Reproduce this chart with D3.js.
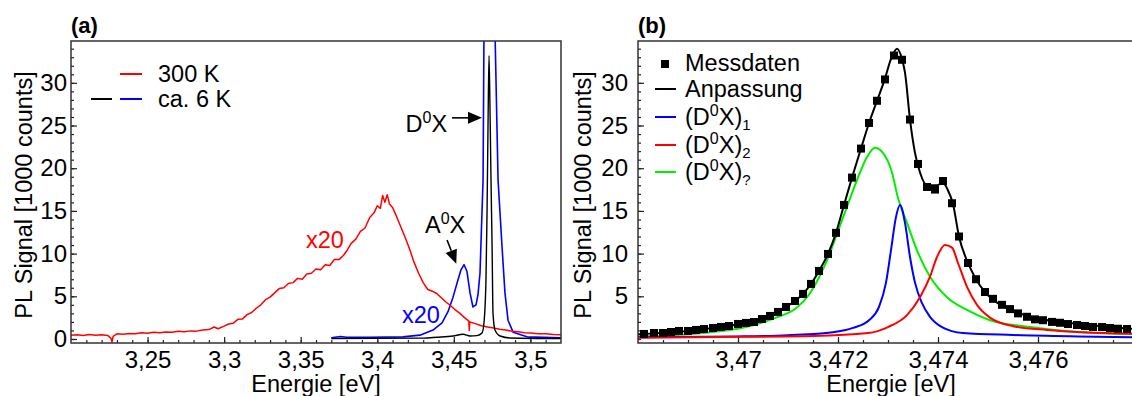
<!DOCTYPE html>
<html>
<head>
<meta charset="utf-8">
<script src="https://cdn.jsdelivr.net/npm/d3@7"></script>
<style>
  body { margin: 0; background: #fff; }
  svg { display: block; font-family: "Liberation Sans", Arial, sans-serif; }
</style>
</head>
<body>
<svg id="chart" width="1132" height="396"></svg>
<script>
// ---- panel (a): PL spectra [energy eV, 1000 counts] ----
const red300K = [
  [3.200, 0.45], [3.204, 0.5], [3.208, 0.42], [3.212, 0.52], [3.216, 0.45], [3.220, 0.5],
  [3.224, 0.42], [3.2262, 0.05], [3.2268, -0.35], [3.2275, 0.3], [3.230, 0.6], [3.234, 0.55],
  [3.238, 0.65], [3.242, 0.6], [3.246, 0.72], [3.250, 0.68], [3.254, 0.78], [3.258, 0.72],
  [3.262, 0.82], [3.266, 0.78], [3.270, 0.9], [3.274, 0.85], [3.278, 0.95], [3.282, 0.92],
  [3.286, 1.05], [3.290, 1.1], [3.2935, 1.4], [3.296, 1.2], [3.300, 1.5], [3.303, 1.75],
  [3.306, 1.85], [3.309, 2.3], [3.312, 2.35], [3.315, 2.85], [3.318, 3.1], [3.321, 3.6],
  [3.324, 4.0], [3.327, 4.6], [3.330, 4.9], [3.333, 5.4], [3.336, 5.9], [3.339, 6.0],
  [3.342, 6.5], [3.345, 6.6], [3.348, 7.1], [3.351, 7.0], [3.354, 7.6], [3.357, 7.7],
  [3.360, 8.2], [3.363, 8.1], [3.366, 8.7], [3.369, 8.6], [3.372, 9.3], [3.375, 9.3],
  [3.378, 9.8], [3.380, 10.3], [3.383, 11.2], [3.386, 11.7], [3.389, 12.6], [3.392, 13.0],
  [3.395, 14.2], [3.398, 14.8], [3.400, 15.6], [3.402, 15.3], [3.4035, 16.8], [3.405, 16.0],
  [3.4065, 16.9], [3.408, 15.8], [3.410, 15.4], [3.412, 14.6], [3.415, 13.3], [3.418, 12.0],
  [3.421, 10.6], [3.424, 9.0], [3.427, 7.7], [3.430, 6.6], [3.433, 5.8], [3.436, 5.6],
  [3.439, 5.3], [3.442, 4.8], [3.445, 4.3], [3.448, 3.9], [3.451, 3.4], [3.454, 3.0],
  [3.457, 2.5], [3.4598, 2.1], [3.4601, 1.0], [3.4604, 2.0], [3.464, 1.8], [3.468, 1.55],
  [3.472, 1.4], [3.476, 1.3], [3.480, 1.15], [3.484, 1.05], [3.488, 0.9], [3.492, 0.85],
  [3.496, 0.72], [3.500, 0.7], [3.505, 0.6], [3.510, 0.62], [3.515, 0.52], [3.520, 0.5]
];
const blue6Kx20 = [
  [3.3700, 0.15], [3.3760, 0.3], [3.3800, 0.2], [3.3953, 0.2], [3.4168, 0.25], [3.4279, 0.45],
  [3.4364, 1.05], [3.4423, 1.9], [3.4462, 3.2], [3.4495, 4.9], [3.4527, 6.9], [3.4547, 8.1],
  [3.4567, 8.7], [3.4586, 7.9], [3.4606, 5.4], [3.4625, 3.75], [3.4645, 4.0], [3.4658, 5.2],
  [3.4671, 7.7], [3.4684, 14.8], [3.4691, 18.6], [3.4697, 36], [3.4730, 660], [3.4769, 36],
  [3.4789, 18.6], [3.4815, 10.8], [3.4834, 5.4], [3.4854, 2.2], [3.4887, 0.8], [3.4978, 0.25],
  [3.5200, 0.15]
];
const black6K = [
  [3.3700, 0.05], [3.4300, 0.1], [3.4390, 0.2], [3.4495, 0.35], [3.4560, 0.55], [3.4606, 0.35],
  [3.4651, 0.4], [3.4684, 0.7], [3.4697, 1.9], [3.4710, 6.9], [3.4717, 14.8], [3.4724, 26],
  [3.4730, 33.2], [3.4737, 26], [3.4743, 18.6], [3.4750, 10.8], [3.4756, 3.0], [3.4769, 1.05],
  [3.4802, 0.35], [3.4867, 0.12], [3.5200, 0.05]
];

// ---- panel (b): D0X line and fit ----
const measE = [
  3.46812, 3.46832, 3.46850, 3.46866, 3.46882, 3.46900, 3.46916, 3.46932, 3.46950, 3.46966,
  3.46982, 3.47000, 3.47016, 3.47032, 3.47048, 3.47064, 3.47080, 3.47096, 3.47114, 3.47130,
  3.47146, 3.47162, 3.47180, 3.47196, 3.47212, 3.47228, 3.47246, 3.47262, 3.47278, 3.47294,
  3.47312, 3.47328, 3.47344, 3.47360, 3.47378, 3.47394, 3.47410, 3.47428, 3.47442, 3.47460,
  3.47476, 3.47494, 3.47510, 3.47528, 3.47544, 3.47560, 3.47578, 3.47594, 3.47610, 3.47628,
  3.47644, 3.47660, 3.47678, 3.47694, 3.47710, 3.47728, 3.47744, 3.47760, 3.47778
];
const measI = [
  0.59, 0.70, 0.70, 0.82, 0.94, 0.94, 1.06, 1.17, 1.29, 1.41,
  1.52, 1.76, 1.88, 1.99, 2.34, 2.70, 3.17, 3.75, 4.45, 5.28,
  6.45, 7.97, 9.96, 12.43, 15.7, 18.9, 22.3, 25.3, 27.9, 30.4,
  33.2, 32.7, 25.7, 20.5, 17.8, 17.5, 18.5, 15.9, 12.0, 8.9,
  7.0, 5.5, 4.7, 4.0, 3.5, 3.0, 2.6, 2.3, 2.2, 2.0,
  1.9, 1.75, 1.64, 1.52, 1.41, 1.4, 1.29, 1.2, 1.17
];
const fitTotal = [
  [3.4680, 0.55], [3.4690, 0.95], [3.4700, 1.7], [3.4705, 2.2], [3.47080, 3.1], [3.47096, 3.75],
  [3.47114, 4.45], [3.47130, 5.28], [3.47146, 6.45], [3.47162, 7.97], [3.47180, 9.96],
  [3.47196, 12.43], [3.47212, 15.7], [3.47228, 18.9], [3.47246, 22.3], [3.47262, 25.3],
  [3.47278, 27.9], [3.47294, 30.5], [3.47306, 32.8], [3.47318, 34.0], [3.47328, 32.8],
  [3.47334, 31.2], [3.47344, 25.7], [3.47354, 21.8], [3.47364, 19.5], [3.47378, 18.0],
  [3.47398, 18.0], [3.47410, 18.3], [3.47420, 17.4], [3.47430, 15.8], [3.47442, 12.0],
  [3.47460, 8.9], [3.47476, 7.0], [3.47494, 5.5], [3.47510, 4.6], [3.47550, 3.3],
  [3.47600, 2.4], [3.47650, 1.95], [3.47700, 1.65], [3.47750, 1.35], [3.47790, 1.2]
];
const fitD0X1 = [
  [3.4680, 0.2], [3.4700, 0.3], [3.4710, 0.45], [3.4719, 0.8], [3.4723, 1.3], [3.47262, 2.2],
  [3.47282, 3.75], [3.47296, 6.6], [3.47306, 10.4], [3.47316, 14.3], [3.47324, 15.7],
  [3.47334, 13.6], [3.47344, 9.6], [3.47354, 6.6], [3.47368, 4.2], [3.47384, 2.6],
  [3.47408, 1.4], [3.4745, 0.7], [3.4755, 0.47], [3.4768, 0.3], [3.4779, 0.2]
];
const fitD0X2 = [
  [3.4680, 0.15], [3.4700, 0.25], [3.4715, 0.35], [3.4726, 0.7], [3.4730, 1.4], [3.47338, 2.8],
  [3.47364, 4.9], [3.47384, 7.3], [3.47398, 9.6], [3.47414, 11.0], [3.47428, 10.7],
  [3.47440, 8.9], [3.47458, 6.1], [3.47478, 4.0], [3.47504, 2.5], [3.4755, 1.5],
  [3.47618, 1.05], [3.4779, 0.6]
];
const fitD0Xq = [
  [3.4680, 0.3], [3.4693, 0.7], [3.47016, 1.4], [3.47076, 2.5], [3.47116, 3.6], [3.47142, 5.2],
  [3.47162, 7.2], [3.47180, 9.5], [3.47196, 12.0], [3.47220, 15.8], [3.47244, 19.5],
  [3.47258, 21.3], [3.47274, 22.4], [3.47290, 21.8], [3.47308, 19.5], [3.47320, 16.5],
  [3.47338, 13.6], [3.47360, 10.1], [3.47384, 7.3], [3.47418, 4.9], [3.47458, 3.4],
  [3.47504, 2.2], [3.47584, 1.4], [3.47684, 0.8], [3.4779, 0.6]
];

// tick labels
const xTicksA = [3.25, 3.3, 3.35, 3.4, 3.45, 3.5];
const yTicksA = [0, 5, 10, 15, 20, 25, 30];
const xTicksB = [3.47, 3.472, 3.474, 3.476];
const yTicksB = [5, 10, 15, 20, 25, 30];

const FS = 23.5;
const svg = d3.select('#chart');

const xA = d3.scaleLinear().domain([3.2, 3.52]).range([71, 561]);
const xB = d3.scaleLinear().domain([3.468, 3.4779]).range([638, 1133]);
const y = d3.scaleLinear().domain([-0.47, 34.9]).range([343, 41]);

const comma = d => String(d).replace('.', ',');

function drawAxes(x, xTicks, xMinor, yTicks, yPad, id) {
  const [x0, x1] = x.range();
  const [y0, y1] = y.range();

  svg.append('clipPath').attr('id', id)
    .append('rect')
    .attr('x', x0).attr('y', y1)
    .attr('width', x1 - x0).attr('height', y0 - y1);

  // minor ticks
  svg.append('g')
    .attr('transform', 'translate(0,' + y0 + ')')
    .call(d3.axisBottom(x).tickValues(xMinor).tickSize(-3).tickFormat(''))
    .call(g => g.select('.domain').remove());
  svg.append('g')
    .attr('transform', 'translate(' + x0 + ',0)')
    .call(d3.axisLeft(y).tickValues(d3.range(0, 35, 1)).tickSize(-3).tickFormat(''))
    .call(g => g.select('.domain').remove());

  // major ticks + labels
  svg.append('g')
    .attr('transform', 'translate(0,' + y0 + ')')
    .call(d3.axisBottom(x).tickValues(xTicks).tickSize(-6).tickPadding(8).tickFormat(comma))
    .call(g => g.select('.domain').remove())
    .attr('font-size', 24).attr('font-family', null);
  svg.append('g')
    .attr('transform', 'translate(' + x0 + ',0)')
    .call(d3.axisLeft(y).tickValues(yTicks).tickSize(-6).tickPadding(yPad))
    .call(g => g.select('.domain').remove())
    .attr('font-size', 24).attr('font-family', null);

  svg.selectAll('.tick line').attr('stroke', '#222').attr('stroke-width', 1.2);
}

function frame(x) {
  const [x0, x1] = x.range();
  const [y0, y1] = y.range();
  svg.append('rect')
    .attr('x', x0).attr('y', y1)
    .attr('width', x1 - x0).attr('height', y0 - y1)
    .attr('fill', 'none').attr('stroke', '#333').attr('stroke-width', 1.5);
}

function curve(data, x, color, width, id, type) {
  const line = d3.line()
    .x(d => x(d[0]))
    .y(d => y(d[1]))
    .curve(type || d3.curveLinear);
  svg.append('path')
    .datum(data)
    .attr('clip-path', 'url(#' + id + ')')
    .attr('d', line)
    .attr('fill', 'none')
    .attr('stroke', color)
    .attr('stroke-width', width)
    .attr('stroke-linejoin', 'round');
}

// label with superscript 0 and optional subscript
function d0x(sel, sub, pre) {
  sel.append('tspan').text(pre);
  sel.append('tspan').attr('font-size', 16).attr('dy', -9).text('0');
  sel.append('tspan').attr('dy', 9).text(sub !== undefined ? 'X)' : 'X');
  if (sub !== undefined) sel.append('tspan').attr('font-size', 15).attr('dy', 5).text(sub);
}

// ================= panel (a) =================
drawAxes(xA, xTicksA, d3.range(3.21, 3.515, 0.01), yTicksA, 4, 'clipA');

curve(blue6Kx20, xA, '#0000ff', 1.6, 'clipA');
curve(red300K, xA, '#ff0000', 1.5, 'clipA');
curve(black6K, xA, '#000', 1.4, 'clipA', d3.curveMonotoneX);
frame(xA);

svg.append('text').attr('x', 71).attr('y', 33)
  .attr('font-size', 22).attr('font-weight', 'bold').text('(a)');

// legend (a)
svg.append('line').attr('x1', 120).attr('x2', 142).attr('y1', 74).attr('y2', 74)
  .attr('stroke', '#ff0000').attr('stroke-width', 2);
svg.append('text').attr('x', 158).attr('y', 82).attr('font-size', FS).text('300 K');
svg.append('line').attr('x1', 91).attr('x2', 112).attr('y1', 99).attr('y2', 99)
  .attr('stroke', '#000').attr('stroke-width', 2);
svg.append('line').attr('x1', 120).attr('x2', 142).attr('y1', 99).attr('y2', 99)
  .attr('stroke', '#0000ff').attr('stroke-width', 2);
svg.append('text').attr('x', 158).attr('y', 107).attr('font-size', FS).text('ca. 6 K');

// annotations (a)
svg.append('text').attr('x', xA(3.3535)).attr('y', y(10.7))
  .attr('font-size', FS).attr('fill', '#ff0000').text('x20');
svg.append('text').attr('x', xA(3.4162)).attr('y', y(1.9))
  .attr('font-size', FS).attr('fill', '#0000ff').text('x20');

svg.append('text').attr('x', xA(3.4456)).attr('y', y(24.2))
  .attr('font-size', FS).attr('text-anchor', 'end')
  .call(s => d0x(s, undefined, 'D'));
svg.append('text').attr('x', xA(3.4312)).attr('y', y(12.4))
  .attr('font-size', FS)
  .call(s => d0x(s, undefined, 'A'));

function arrow(xs, ys, xe, ye) {
  const ang = Math.atan2(ye - ys, xe - xs);
  const L = 14, W = 6;
  const bx = xe - L * Math.cos(ang), by = ye - L * Math.sin(ang);
  svg.append('line').attr('x1', xs).attr('y1', ys).attr('x2', bx).attr('y2', by)
    .attr('stroke', '#000').attr('stroke-width', 1.6);
  svg.append('path')
    .attr('d', d3.line()([
      [xe, ye],
      [bx + W * Math.sin(ang), by - W * Math.cos(ang)],
      [bx - W * Math.sin(ang), by + W * Math.cos(ang)]
    ]) + 'Z')
    .attr('fill', '#000');
}
arrow(xA(3.4488), y(25.9), xA(3.4684), y(25.9));
arrow(xA(3.4456), y(11.6), xA(3.4516), y(8.8));

// ================= panel (b) =================
drawAxes(xB, xTicksB, d3.range(3.4685, 3.4779, 0.0005), yTicksB, 10, 'clipB');

curve(fitD0Xq, xB, '#00ee00', 2, 'clipB', d3.curveMonotoneX);
curve(fitD0X1, xB, '#0000ff', 2, 'clipB', d3.curveMonotoneX);
curve(fitD0X2, xB, '#ff0000', 2, 'clipB', d3.curveMonotoneX);
curve(fitTotal, xB, '#000', 2, 'clipB', d3.curveMonotoneX);

svg.append('g').attr('clip-path', 'url(#clipB)')
  .selectAll('rect')
  .data(measE.map((e, i) => [e, measI[i]]))
  .enter()
  .append('rect')
  .attr('x', d => xB(d[0]) - 4)
  .attr('y', d => y(d[1]) - 4)
  .attr('width', 8).attr('height', 8)
  .attr('fill', '#000');
frame(xB);

svg.append('text').attr('x', 638).attr('y', 33)
  .attr('font-size', 22).attr('font-weight', 'bold').text('(b)');

// legend (b)
svg.append('rect').attr('x', 661).attr('y', 60).attr('width', 8).attr('height', 8).attr('fill', '#000');
svg.append('text').attr('x', 685).attr('y', 71).attr('font-size', FS).text('Messdaten');
const legB = [
  { c: '#000', y: 89 },
  { c: '#0000ff', y: 117, sub: '1' },
  { c: '#ff0000', y: 145, sub: '2' },
  { c: '#00ee00', y: 172, sub: '?' }
];
legB.forEach((d, i) => {
  svg.append('line').attr('x1', 655).attr('x2', 676).attr('y1', d.y).attr('y2', d.y)
    .attr('stroke', d.c).attr('stroke-width', 2);
  const t = svg.append('text').attr('x', 685).attr('y', d.y + 8).attr('font-size', FS);
  if (i === 0) t.text('Anpassung');
  else d0x(t, d.sub, '(D');
});

// axis titles
[[xA, 32], [xB, 591]].forEach(([x, lx]) => {
  svg.append('text')
    .attr('transform', 'translate(' + lx + ',195) rotate(-90)')
    .attr('text-anchor', 'middle').attr('font-size', FS)
    .text('PL Signal [1000 counts]');
});
svg.append('text').attr('x', 316).attr('y', 392)
  .attr('text-anchor', 'middle').attr('font-size', FS).text('Energie [eV]');
svg.append('text').attr('x', 891).attr('y', 392)
  .attr('text-anchor', 'middle').attr('font-size', FS).text('Energie [eV]');
</script>
</body>
</html>
